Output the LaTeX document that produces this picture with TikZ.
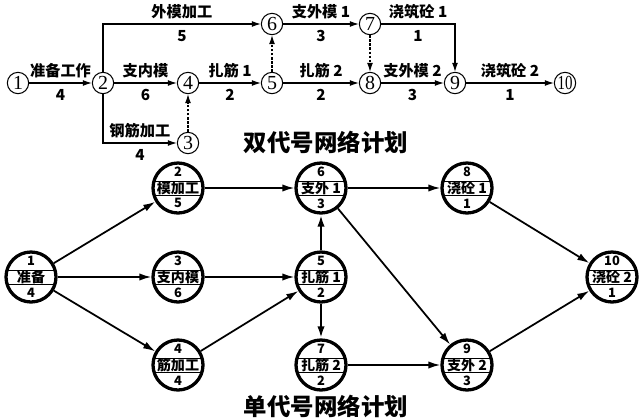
\documentclass[tikz,border=0pt]{standalone}
\usepackage{fontspec}
\setmainfont{Noto Sans CJK SC}
\newfontfamily\evfont{Liberation Serif}
\usepackage{graphicx}
\usepackage{tikz}
\usetikzlibrary{arrows.meta, positioning, calc}

\newcommand{\actnode}[5]{%
  \node[act] (#1) at (#2) {#4};
  \node[num] (#1n) at ([yshift=0.49cm]#1.center) {#3};
  \node[num] (#1d) at ([yshift=-0.46cm]#1.center) {#5};}

\begin{document}
\begin{tikzpicture}[x=0.03cm, y=-0.03cm,
  ev/.style={circle, draw, line width=0.9pt, minimum size=0.64cm, inner sep=0pt,
    font=\evfont\fontsize{17}{17}\selectfont},
  act/.style={circle, draw, line width=2.8pt, minimum size=1.5cm, inner sep=0pt,
    font=\bfseries\fontsize{12}{12}\selectfont,
    path picture={\draw[line width=0.6pt]
      ([yshift=0.21cm]path picture bounding box.west) -- ([yshift=0.21cm]path picture bounding box.east)
      ([yshift=-0.21cm]path picture bounding box.west) -- ([yshift=-0.21cm]path picture bounding box.east);}},
  num/.style={font=\bfseries\fontsize{11}{11}\selectfont, inner sep=0pt},
  lab/.style={font=\bfseries\fontsize{13}{13}\selectfont, inner sep=0pt},
  arr/.style={-{Latex[length=0.27cm, width=0.18cm]}, line width=0.9pt},
  dummy/.style={arr, dash pattern=on 2pt off 1.5pt},
  link/.style={-{Latex[length=0.36cm, width=0.22cm]}, line width=1.5pt},
  title/.style={font=\bfseries\fontsize{20}{20}\selectfont}
]
\useasboundingbox (0,0) rectangle (640,419);

% double-code network
\node[ev] (e1) at (18,83) {1};
\node[ev] (e2) at (103,83) {2};
\node[ev] (e3) at (188,143) {3};
\node[ev] (e4) at (188,83) {4};
\node[ev] (e5) at (272,83) {5};
\node[ev] (e6) at (272,24) {6};
\node[ev] (e7) at (370,24) {7};
\node[ev] (e8) at (370,83) {8};
\node[ev] (e9) at (455,83) {9};
\node[ev] (e10) at (565,83) {\scalebox{0.75}[1]{10}};

\draw[arr] (e1) -- node[lab, above=4pt] (l12) {准备工作} node[lab, below=5pt] (d12) {4} (e2);
\draw[arr] (e2) |- node[lab, above=4pt, pos=0.75] (l26) {外模加工} node[lab, below=5pt, pos=0.75] (d26) {5} (e6);
\draw[arr] (e2) -- node[lab, above=4pt] (l24) {支内模} node[lab, below=5pt] (d24) {6} (e4);
\draw[arr] (e2) |- node[lab, above=4pt, pos=0.75] (l23) {钢筋加工} node[lab, below=5pt, pos=0.75] (d23) {4} (e3);
\draw[arr] (e4) -- node[lab, above=4pt] (l45) {扎筋 1} node[lab, below=5pt] (d45) {2} (e5);
\draw[arr] (e6) -- node[lab, above=4pt] (l67) {支外模 1} node[lab, below=5pt] (d67) {3} (e7);
\draw[arr] (e5) -- node[lab, above=4pt] (l58) {扎筋 2} node[lab, below=5pt] (d58) {2} (e8);
\draw[arr] (e7) -| node[lab, above=4pt, pos=0.25] (l79) {浇筑砼 1} node[lab, below=5pt, pos=0.25] (d79) {1} (e9);
\draw[arr] (e8) -- node[lab, above=4pt] (l89) {支外模 2} node[lab, below=5pt] (d89) {3} (e9);
\draw[arr] (e9) -- node[lab, above=4pt] (l910) {浇筑砼 2} node[lab, below=5pt] (d910) {1} (e10);
\draw[dummy] (e3) -- (e4);
\draw[dummy] (e5) -- (e6);
\draw[dummy] (e7) -- (e8);

\node[title] (t1) at (326,142) {双代号网络计划};

% single-code network
\actnode{b1}{31,277}{1}{准备}{4}
\actnode{b2}{178,188}{2}{模加工}{5}
\actnode{b3}{178,277}{3}{支内模}{6}
\actnode{b4}{178,365}{4}{筋加工}{4}
\actnode{b5}{321,277}{5}{扎筋 1}{2}
\actnode{b6}{321,188}{6}{支外 1}{3}
\actnode{b7}{321,365}{7}{扎筋 2}{2}
\actnode{b8}{467,188}{8}{浇砼 1}{1}
\actnode{b9}{467,365}{9}{支外 2}{3}
\actnode{b10}{612,277}{10}{浇砼 2}{1}

\draw[link] (b1) -- (b2);
\draw[link] (b1) -- (b3);
\draw[link] (b1) -- (b4);
\draw[link] (b2) -- (b6);
\draw[link] (b3) -- (b5);
\draw[link] (b4) -- (b5);
\draw[link, line width=2pt] (b5) -- (b6);
\draw[link, line width=2pt] (b5) -- (b7);
\draw[link] (b6) -- (b8);
\draw[link] (b6) -- (b9);
\draw[link] (b7) -- (b9);
\draw[link] (b8) -- (b10);
\draw[link] (b9) -- (b10);

\node[title] (t2) at (326,406) {单代号网络计划};
\end{tikzpicture}
\end{document}
